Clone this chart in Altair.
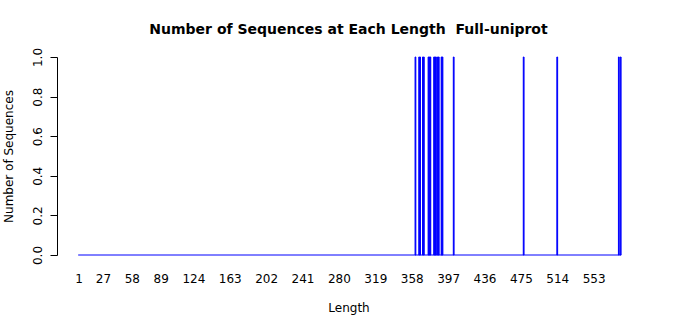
import altair as alt
import pandas as pd

# Sequence lengths that occur (each once) and their counts
lengths = [362, 366, 367, 370, 371, 376, 377, 378, 382, 383, 384, 386, 387,
           390, 391, 403, 478, 514, 580, 582]
counts = [1] * len(lengths)

# labels shown on the x axis
x_tick_labels = [1, 27, 58, 89, 124, 163, 202, 241, 280, 319, 358, 397, 436,
                 475, 514, 553]
y_ticks = [0.0, 0.2, 0.4, 0.6, 0.8, 1.0]

min_len, max_len = 1, 582

bars_df = pd.DataFrame({"length": lengths, "count": counts})
bars_df["x0"] = bars_df["length"] - 0.42
bars_df["x1"] = bars_df["length"] + 0.42
bars_df["y0"] = 0

base_df = pd.DataFrame({"x0": [min_len - 0.5], "x1": [max_len + 0.5], "count": [0]})

xscale = alt.Scale(domain=[-22.2, 602.7], nice=False, zero=False)
yscale = alt.Scale(domain=[0, 1], nice=False)

fontname = "DejaVu Sans"

xaxis = alt.Axis(values=x_tick_labels, title="Length", grid=False,
                 domain=False, ticks=False, labelPadding=18,
                 labelFontSize=12, labelFont=fontname, labelColor="black",
                 labelOverlap=False, labelFlush=False, labelBound=False,
                 titleFont=fontname, titleFontSize=12, titleFontWeight="normal",
                 titleColor="black", titleY=47, titleBaseline="top")
yaxis = alt.Axis(values=y_ticks, format=".1f", title="Number of Sequences",
                 grid=False, domainColor="black", tickColor="black",
                 tickSize=7, labelPadding=9, labelAngle=270,
                 labelAlign="center", labelBaseline="alphabetic",
                 labelFontSize=12, labelFont=fontname, labelColor="black",
                 labelFlush=False, labelOverlap=False, labelBound=False,
                 titleFont=fontname, titleFontSize=12, titleFontWeight="normal",
                 titleColor="black", titleAngle=270, titleX=-49, titleY=99,
                 titleAlign="center", titleBaseline="middle")

bars = alt.Chart(bars_df).mark_rect(
    color="#0000ff", stroke="#0000ff", strokeWidth=1
).encode(
    x=alt.X("x0:Q", scale=xscale, axis=xaxis),
    x2="x1:Q",
    y=alt.Y("count:Q", scale=yscale, axis=yaxis),
    y2="y0:Q",
)

baseline = alt.Chart(base_df).mark_rule(color="#0000ff", strokeWidth=1).encode(
    x=alt.X("x0:Q", scale=xscale, axis=xaxis),
    x2="x1:Q",
    y=alt.Y("count:Q", scale=yscale, axis=yaxis),
)

chart = alt.layer(bars, baseline).properties(
    width=583,
    height=198,
    padding={"left": 57, "top": 57, "right": 60, "bottom": 60},
    autosize=alt.AutoSizeParams(type="none"),
    title=alt.TitleParams(
        text="Number of Sequences at Each Length \u00a0Full-uniprot",
        font=fontname, fontSize=14, fontWeight="bold", color="black",
        anchor="middle", frame="group", baseline="alphabetic", offset=11, dy=12,
    ),
).configure(background="white").configure_view(strokeWidth=0)

chart.save("out.html", embed_options={"renderer": "svg", "actions": False})
